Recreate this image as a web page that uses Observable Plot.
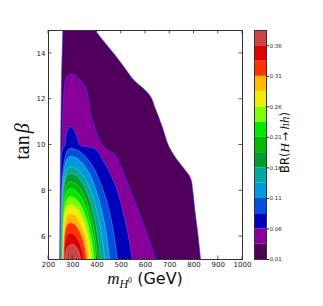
<!DOCTYPE html>
<html><head><meta charset="utf-8">
<script src="https://cdn.jsdelivr.net/npm/d3@7"></script>
<script src="https://cdn.jsdelivr.net/npm/@observablehq/plot@0.6"></script>
<style>
body{margin:0;background:#fff;}
#wrap{position:relative;width:323px;height:306px;}
#wrap svg{position:absolute;left:0;top:0;}
</style></head><body><div id="wrap"></div>
<script>
// ---- data ----
const xTicks = [200, 300, 400, 500, 600, 700, 800, 900, 1000];
const yTicks = [6, 8, 10, 12, 14];
const levels = [0.01, 0.035, 0.06, 0.085, 0.11, 0.135, 0.16, 0.185, 0.21, 0.235, 0.26, 0.285, 0.31, 0.335, 0.36, 0.385];
const levelTicks = [0.01, 0.06, 0.11, 0.16, 0.21, 0.26, 0.31, 0.36];
const bandColors = ["#4f005b", "#880099", "#0000bb", "#004fdd", "#0099dd", "#00aa9f", "#009f2d", "#00bb00", "#00e800", "#7dff00", "#eeee00", "#ffbb00", "#ff3300", "#dd0000", "#cc4444"];

// contour boundaries [m_H0 (GeV), tan(beta)] for BR >= level
const band00 = [[245,4.6],[246,5],[248,8],[250,10],[254,13],[259,15],[260,15.6],[370,15.6],[394,15],[430,14.5],[469,14],[512,13.4],[552,12.83],[588,12.5],[622,12.1],[640,11.6],[655,11.2],[675,10.6],[690,10.1],[703,9.8],[731,9.34],[760,8.95],[786,8.55],[795,8.0],[803,7.2],[815,6.2],[827,5.0],[830,4.6]];
const band01 = [[248,4.6],[249,5],[251,8],[256,10],[259,11.5],[263,12.25],[266,12.6],[272,12.9],[282,13.07],[291,13.12],[305,13.08],[320,12.97],[332,12.83],[348,12.6],[359,12.33],[367,11.9],[375,11.3],[388,10.9],[400,10.45],[420,10.05],[450,9.75],[473,9.6],[505,8.9],[535,8.1],[572,7.1],[607,6.1],[641,5.0],[648,4.6]];
const band02 = [[250,4.6],[250.5,5],[252,8],[254,9.6],[260,9.85],[267,10.0],[272,10.4],[280,10.7],[288,10.8],[296,10.77],[307,10.62],[316,10.4],[323,10.15],[331,9.98],[345,9.94],[364,9.92],[398,9.78],[432,9.2],[467,8.47],[495,7.6],[518,6.6],[535,5.7],[545,5.0],[548,4.6]];
const band03 = [[251,4.6],[251,5],[251,5.58],[252,6.46],[253,7.43],[256,8.3],[261,8.98],[269,9.46],[278,9.75],[290,9.85],[323,9.75],[355,9.46],[387,8.98],[416,8.3],[443,7.43],[464,6.46],[477,5.58],[484,5],[486,4.6]];
const band04 = [[252,4.6],[252,5],[252,5.54],[253,6.35],[254,7.25],[257,8.06],[262,8.69],[269,9.14],[279,9.41],[290,9.5],[318,9.41],[345,9.14],[371,8.69],[395,8.06],[417,7.25],[435,6.35],[446,5.54],[452,5],[454,4.6]];
const band05 = [[253,4.6],[253,5],[253,5.49],[254,6.22],[255,7.03],[258,7.75],[262,8.32],[270,8.73],[279,8.97],[290,9.05],[314,8.97],[338,8.73],[361,8.32],[382,7.75],[402,7.03],[417,6.22],[427,5.49],[432,5],[434,4.6]];
const band06 = [[254.5,4.6],[254.5,5],[254.5,5.45],[255,6.13],[257,6.88],[259,7.56],[263,8.08],[270,8.46],[279,8.68],[290,8.76],[311,8.68],[332,8.46],[352,8.08],[371,7.56],[388,6.88],[401,6.13],[410,5.45],[414,5],[416,4.6]];
const band07 = [[256,4.6],[256,5],[256,5.41],[256.7,6.02],[258,6.7],[260.5,7.31],[264.5,7.79],[271,8.13],[280,8.33],[290,8.4],[309,8.33],[328,8.13],[347,7.79],[364,7.31],[380,6.7],[392,6.02],[400,5.41],[404,5],[406,4.6]];
const band08 = [[257.5,4.6],[257.5,5],[257.7,5.37],[258,5.93],[259.5,6.55],[261.7,7.11],[265.6,7.54],[272,7.85],[280,8.04],[290,8.1],[308,8.04],[326,7.85],[343,7.54],[359,7.11],[373,6.55],[385,5.93],[392,5.37],[396,5],[398,4.6]];
const band09 = [[259,4.6],[259,5],[259.2,5.33],[259.6,5.82],[260.9,6.37],[263,6.86],[266.8,7.25],[273,7.52],[280.7,7.69],[290,7.74],[306.5,7.69],[322.7,7.52],[338.3,7.25],[353,6.86],[366,6.37],[377,5.82],[383.6,5.33],[387,5],[389,4.6]];
const band10 = [[260.5,4.6],[260.5,5],[260.6,5.29],[261.1,5.71],[262.3,6.19],[264.3,6.62],[267.9,6.95],[273.8,7.19],[281,7.33],[290,7.38],[304.8,7.33],[319.3,7.19],[333.3,6.95],[346.6,6.62],[358.5,6.19],[367.9,5.71],[374,5.29],[377,5],[379,4.6]];
const band11 = [[262,4.6],[262,5],[262.1,5.24],[262.6,5.6],[263.7,6.0],[265.6,6.36],[269,6.64],[274.6,6.84],[281.6,6.96],[290,7.0],[303,6.96],[316,6.84],[328,6.64],[340,6.36],[350.6,6.0],[359,5.6],[364,5.24],[367,5],[369,4.6]];
const band12 = [[263.5,4.6],[263.5,5],[263.6,5.19],[264,5.48],[265.1,5.8],[267,6.09],[270.1,6.31],[275.4,6.47],[282,6.57],[290,6.6],[301.4,6.57],[312.6,6.47],[323.4,6.31],[333.6,6.09],[342.7,5.8],[350,5.48],[354.7,5.19],[357,5],[359,4.6]];
const band13 = [[265,4.6],[265,5],[265.1,5.14],[265.5,5.35],[266.5,5.58],[268.3,5.78],[271.3,5.94],[276.3,6.06],[282.5,6.13],[290,6.15],[299.5,6.13],[308.9,6.06],[317.9,5.94],[326.4,5.78],[334,5.58],[340,5.35],[344,5.14],[346,5],[348,4.6]];
const band14 = [[270,4.6],[270,5],[270.15,5.08],[270.6,5.2],[271.8,5.33],[273.9,5.44],[277.5,5.53],[283.5,5.6],[291,5.64],[300,5.65],[305.4,5.64],[310.8,5.6],[316,5.53],[320.8,5.44],[325.2,5.33],[328.6,5.2],[330.9,5.08],[332,5],[334,4.6]];

// ---- build ----
const bands = [band00, band01, band02, band03, band04, band05, band06, band07, band08, band09, band10, band11, band12, band13, band14];
const edgeColor = k => k === 0 ? "#3535d8" : k === 1 ? "#3a3aff" : d3.interpolateRgb(bandColors[k], "#ffffff")(0.35);
const rows = bands.flatMap((pts, k) => pts.map(([m, t]) => ({m, t, k, fill: bandColors[k], stroke: edgeColor(k)})));

const W = 323, H = 306;
const main = Plot.plot({
  width: W, height: H,
  marginLeft: 48, marginRight: 81, marginTop: 30, marginBottom: 47,
  x: {domain: [200, 1000]},
  y: {domain: [5, 15]},
  color: {type: "identity"},
  style: {fontFamily: "DejaVu Sans, sans-serif", background: "white", color: "#222"},
  marks: [
    Plot.line(rows, {x: "m", y: "t", z: "k", fill: "fill", stroke: "stroke", strokeWidth: 0.6, curve: "catmull-rom", clip: true}),
    Plot.frame({stroke: "#333", strokeWidth: 1}),
    Plot.axisX(xTicks, {tickSize: 0, tickPadding: 3, fontSize: 7, tickFormat: "d", label: null}),
    Plot.axisY(yTicks, {tickSize: 0, tickPadding: 3, fontSize: 7, tickFormat: "d", label: null})
  ]
});

const cbRows = bandColors.map((c, i) => ({lo: levels[i], hi: levels[i + 1], c}));
const cbar = Plot.plot({
  width: W, height: H,
  marginLeft: 254, marginRight: 57, marginTop: 30, marginBottom: 47,
  y: {domain: [levels[0], levels[levels.length - 1]]},
  color: {type: "identity"},
  style: {fontFamily: "DejaVu Sans, sans-serif", background: "transparent", color: "#222"},
  marks: [
    Plot.rect(cbRows, {y1: "lo", y2: "hi", fill: "c"}),
    Plot.frame({stroke: "#333", strokeWidth: 1}),
    Plot.axisY(levelTicks, {anchor: "right", tickSize: 2, tickPadding: 1, fontSize: 5.5, tickFormat: ".2f", label: null})
  ]
});

const wrap = document.getElementById("wrap");
wrap.appendChild(main);
wrap.appendChild(cbar);

// inward ticks on all four sides using the plot's scales
const sx = main.scale("x"), sy = main.scale("y");
const svg = d3.select(main);
const gt = svg.append("g").attr("stroke", "#333").attr("stroke-width", 0.8);
const xb = sy.apply(5), xt = sy.apply(15), yl = sx.apply(200), yr = sx.apply(1000);
for (const v of xTicks) {
  const px = sx.apply(v);
  gt.append("line").attr("x1", px).attr("x2", px).attr("y1", xb).attr("y2", xb - 3.5);
  gt.append("line").attr("x1", px).attr("x2", px).attr("y1", xt).attr("y2", xt + 3.5);
}
for (const v of yTicks) {
  const py = sy.apply(v);
  gt.append("line").attr("y1", py).attr("y2", py).attr("x1", yl).attr("x2", yl + 3.5);
  gt.append("line").attr("y1", py).attr("y2", py).attr("x1", yr).attr("x2", yr - 3.5);
}

// x label: m_{H^0} (GeV)
const xl = svg.append("text").attr("x", (yl + yr) / 2).attr("y", xb + 25).attr("text-anchor", "middle").attr("fill", "#111");
xl.append("tspan").attr("font-family", "Liberation Serif, serif").attr("font-style", "italic").attr("font-size", 17).text("m");
xl.append("tspan").attr("font-family", "Liberation Serif, serif").attr("font-style", "italic").attr("font-size", 12).attr("dy", 4).text("H");
xl.append("tspan").attr("font-family", "Liberation Serif, serif").attr("font-size", 8).attr("dy", -5).text("0");
xl.append("tspan").attr("font-family", "DejaVu Sans, sans-serif").attr("font-size", 16).attr("dy", 1).text(" (GeV)");

// y label: tan β
const ycy = (xb + xt) / 2 - 3;
const ylab = svg.append("text").attr("transform", `translate(29,${ycy}) rotate(-90)`).attr("text-anchor", "middle").attr("fill", "#111")
  .attr("font-family", "Liberation Serif, serif").attr("font-size", 20);
ylab.append("tspan").text("tan");
ylab.append("tspan").attr("font-style", "italic").attr("dx", 2).text("β");

// colorbar label: BR(H→hh)
const csvg = d3.select(cbar);
const cl = csvg.append("text").attr("transform", `translate(289,${(xb + xt) / 2 - 2}) rotate(-90)`).attr("text-anchor", "middle").attr("fill", "#111")
  .attr("font-family", "DejaVu Sans, sans-serif").attr("font-size", 11.5);
cl.append("tspan").text("BR(");
cl.append("tspan").attr("font-family", "Liberation Serif, serif").attr("font-style", "italic").attr("font-size", 13).text("H");
cl.append("tspan").attr("dx", 2).text("→");
cl.append("tspan").attr("dx", 2).attr("font-family", "Liberation Serif, serif").attr("font-style", "italic").attr("font-size", 13).text("hh");
cl.append("tspan").text(")");
</script>
</body></html>
